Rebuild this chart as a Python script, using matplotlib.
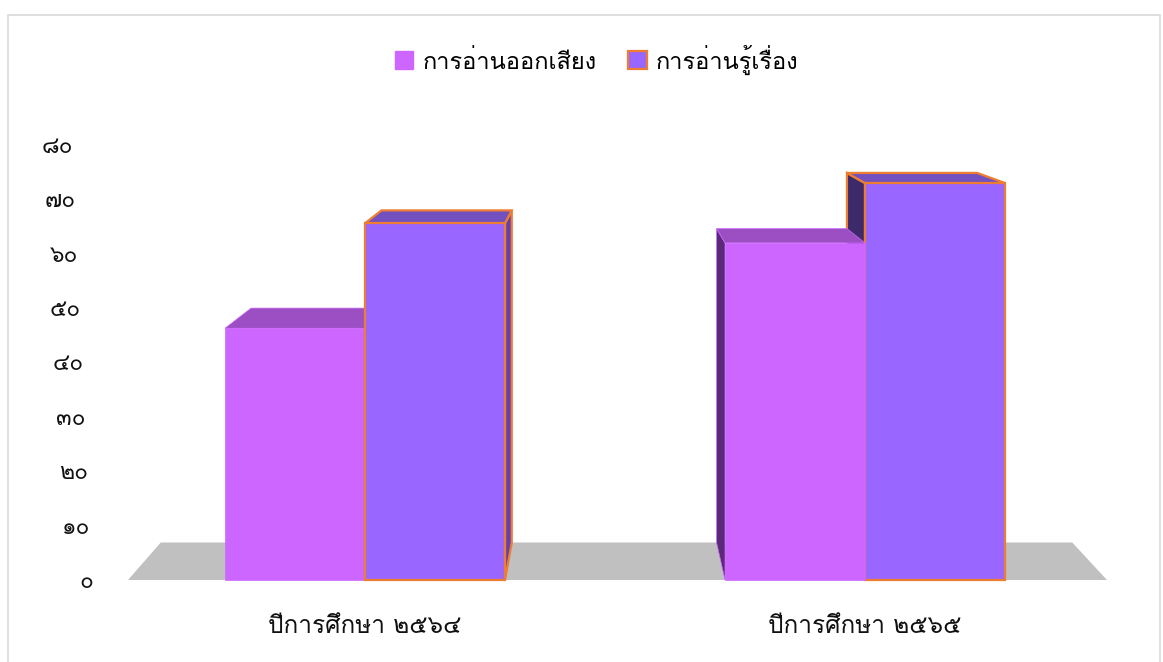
import numpy as np
import matplotlib
matplotlib.use("Agg")
import matplotlib.pyplot as plt
from matplotlib import font_manager
from matplotlib.patches import Polygon, Patch, Rectangle
from matplotlib.ft2font import FT2Font
from matplotlib.transforms import ScaledTranslation

# data
categories = ["ปีการศึกษา ๒๕๖๔", "ปีการศึกษา ๒๕๖๕"]
series_names = ["การอ่านออกเสียง", "การอ่านรู้เรื่อง"]
reading_aloud = [46.3, 62.0]
reading_comp = [65.6, 73.0]
yticks = [0, 10, 20, 30, 40, 50, 60, 70, 80]
ytick_labels = ["๐", "๑๐", "๒๐", "๓๐", "๔๐", "๕๐", "๖๐", "๗๐", "๘๐"]


def find_thai_font():
    names = []
    for f in font_manager.fontManager.ttflist:
        try:
            ft = FT2Font(f.fname)
            if ft.get_char_index(ord("ก")) and ft.get_char_index(ord("๕")):
                names.append(f.name)
        except Exception:
            pass
    return names


thai = find_thai_font()
plt.rcParams["font.family"] = thai[:1] + ["DejaVu Sans", "Noto Sans"]

fig = plt.figure(figsize=(11.63, 6.62), dpi=100)
fig.patches.append(Rectangle((0.007, -0.01), 0.99, 0.988, transform=fig.transFigure,
                             fill=False, edgecolor="#d9d9d9", linewidth=1.2))

ax = fig.add_axes([128 / 1163, 82 / 662, 979 / 1163, 435 / 662])
xmin, xmax = -0.474, 1.484
ax.set_xlim(xmin, xmax)
ax.set_ylim(0, 80)

# perspective toward a vanishing point
vp = np.array([0.476, 100.0])
s = 0.931


def back(pts):
    pts = np.asarray(pts, dtype=float)
    return vp + s * (pts - vp)


# floor
fl_front = [(xmin, 0), (xmax, 0)]
fl_back = back(fl_front)
ax.add_patch(Polygon([fl_front[0], fl_front[1], fl_back[1], fl_back[0]],
                     closed=True, facecolor="#c0c0c0", edgecolor="none", zorder=1))

w = 0.28
x = np.arange(len(categories))
styles = [
    dict(front="#cc66ff", top="#9b4fc2", side_l="#5a2a78", side_r="#8a45b0", edge="#cc66ff", lw=0.5),
    dict(front="#9966ff", top="#7350bf", side_l="#3d2a6b", side_r="#6340aa", edge="#ed7d31", lw=1.6),
]
series = [reading_aloud, reading_comp]

# order: draw bars far from the vanishing point first
bars = []
for si, vals in enumerate(series):
    for gi, v in enumerate(vals):
        left = x[gi] + (si - 1) * w
        bars.append((si, gi, left, v))
bars.sort(key=lambda b: -abs(b[2] + w / 2 - vp[0]))

z = 2
for si, gi, left, v in bars:
    st = styles[si]
    fr = [(left, 0), (left + w, 0), (left + w, v), (left, v)]
    bk = back(fr)
    # side face
    if left + w < vp[0]:
        side = [fr[1], fr[2], bk[2], bk[1]]
        sc = st["side_r"]
    else:
        side = [fr[0], fr[3], bk[3], bk[0]]
        sc = st["side_l"]
    ax.add_patch(Polygon(side, closed=True, facecolor=sc, edgecolor=st["edge"],
                         linewidth=st["lw"], zorder=z, clip_on=False))
    ax.add_patch(Polygon([fr[3], fr[2], bk[2], bk[3]], closed=True, facecolor=st["top"],
                         edgecolor=st["edge"], linewidth=st["lw"], zorder=z, clip_on=False))
    ax.bar(left, v, width=w, align="edge", color=st["front"], edgecolor=st["edge"],
           linewidth=st["lw"], zorder=z + 0.5, clip_on=False)
    z += 1

for sp in ax.spines.values():
    sp.set_visible(False)
ax.set_yticks(yticks)
ax.set_yticklabels(ytick_labels, fontsize=16.5, color="#111111")
ax.set_xticks(x)
ax.set_xticklabels(categories, fontsize=17.5, color="#111111")
ax.tick_params(axis="y", length=0, pad=25)
ax.tick_params(axis="x", length=0, pad=25)

# labels sit on the receding side wall, so they drift left as they rise
for v, lab in zip(yticks, ax.get_yticklabels()):
    lab.set_transform(lab.get_transform() + ScaledTranslation(-0.2 * v / 80, 0, fig.dpi_scale_trans))

handles = [Patch(facecolor=styles[0]["front"], edgecolor=styles[0]["front"]),
           Patch(facecolor=styles[1]["front"], edgecolor=styles[1]["edge"], linewidth=1.6)]
fig.legend(handles, series_names, loc="center", bbox_to_anchor=(0.513, 0.91), ncol=2,
           frameon=False, fontsize=17, handlelength=0.8, handleheight=0.8,
           handletextpad=0.4, columnspacing=1.3)

fig.savefig("out.png", dpi=100)
